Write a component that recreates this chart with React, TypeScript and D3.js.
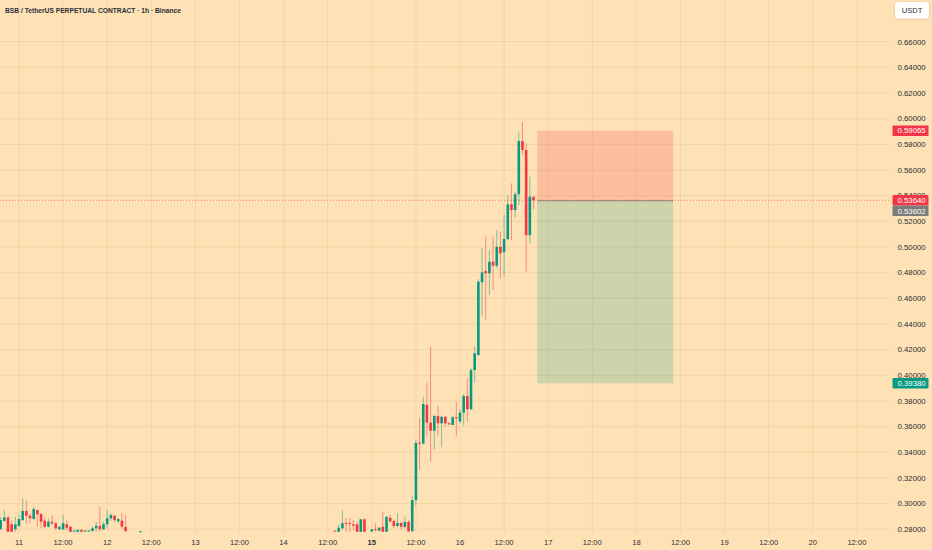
import React from "react";
import * as d3 from "d3";

// ---- data ----
const title = "BSB / TetherUS PERPETUAL CONTRACT · 1h · Binance";
const currency = "USDT";

// hour index from 11th 00:00
const hours = [
  -5, -4, -3, -2, -1, 0, 1, 2, 3, 4, 5, 6, 7, 8, 9, 10, 11, 12, 13, 14, 15, 16, 17, 18, 19, 20, 21, 22, 23, 24, 25, 26, 27, 28, 29,
  33,
  86, 87, 88, 89, 90, 91, 92, 93, 94, 96, 97, 98, 99, 100, 101, 102, 103, 104, 105, 106,
  107, 108, 109, 110, 111, 112, 113, 114, 115, 116, 117, 118, 119, 120, 121, 122, 123, 124, 125, 126, 127, 128, 129, 130, 131, 132, 133, 134, 135, 136, 137, 138, 139, 140,
];
const opens = [
  0.2802, 0.2865, 0.2893, 0.2839, 0.28, 0.2826, 0.2872, 0.2943, 0.2906, 0.288, 0.295, 0.2919, 0.2867, 0.282, 0.2859, 0.2847, 0.28, 0.28, 0.2839, 0.282, 0.2785, 0.2781, 0.2795, 0.2788, 0.2785, 0.2787, 0.2808, 0.2826, 0.28, 0.2839, 0.2886, 0.2906, 0.2862, 0.2867, 0.2818,
  0.2783,
  0.279, 0.2781, 0.2808, 0.285, 0.2849, 0.2839, 0.2839, 0.2781, 0.2878, 0.2783, 0.2802, 0.279, 0.282, 0.2781, 0.289, 0.2865, 0.2826, 0.2849, 0.2818, 0.2857,
  0.2785, 0.3028, 0.3476, 0.3468, 0.3769, 0.3631, 0.3568, 0.3683, 0.3626, 0.3677, 0.3626, 0.3613, 0.3673, 0.364, 0.3709, 0.3839, 0.3735, 0.4041, 0.4158, 0.4725, 0.4813, 0.4795, 0.4885, 0.4854, 0.5002, 0.4959, 0.5062, 0.5333, 0.5288, 0.5411, 0.5826, 0.5756, 0.5093, 0.5392,
];
const highs = [
  0.2896, 0.295, 0.29, 0.2872, 0.2898, 0.2911, 0.3041, 0.3028, 0.2925, 0.2976, 0.2955, 0.2925, 0.2898, 0.2886, 0.2911, 0.2855, 0.2826, 0.2911, 0.287, 0.2826, 0.2792, 0.2798, 0.2798, 0.2792, 0.2792, 0.282, 0.2859, 0.2976, 0.2859, 0.295, 0.2925, 0.2911, 0.289, 0.2925, 0.2911,
  0.2786,
  0.2792, 0.284, 0.295, 0.289, 0.2886, 0.2872, 0.2859, 0.288, 0.2886, 0.2803, 0.2847, 0.2818, 0.2937, 0.29, 0.2911, 0.2875, 0.2927, 0.2862, 0.2898, 0.2872,
  0.3059, 0.3497, 0.3667, 0.3833, 0.3942, 0.4223, 0.3691, 0.3761, 0.3683, 0.3683, 0.3635, 0.3683, 0.3794, 0.3735, 0.3855, 0.3977, 0.4055, 0.4223, 0.475, 0.499, 0.508, 0.4977, 0.508, 0.5132, 0.5119, 0.5249, 0.5405, 0.5496, 0.5431, 0.5898, 0.5976, 0.5808, 0.5548, 0.5392,
];
const lows = [
  0.2795, 0.2859, 0.2781, 0.2778, 0.2781, 0.2818, 0.2865, 0.2847, 0.2847, 0.2878, 0.282, 0.2808, 0.2808, 0.2812, 0.2833, 0.2795, 0.2798, 0.2795, 0.2795, 0.2781, 0.2783, 0.2778, 0.2778, 0.2786, 0.2783, 0.2781, 0.2781, 0.2781, 0.2795, 0.2812, 0.2865, 0.285, 0.2845, 0.28, 0.2781,
  0.2782,
  0.2784, 0.2781, 0.2795, 0.2781, 0.2781, 0.2795, 0.2781, 0.2781, 0.2781, 0.2781, 0.2781, 0.2783, 0.2781, 0.2781, 0.285, 0.281, 0.2818, 0.28, 0.2808, 0.2781,
  0.2781, 0.2989, 0.3262, 0.346, 0.3522, 0.3327, 0.3423, 0.3522, 0.3439, 0.36, 0.3613, 0.3613, 0.3522, 0.3626, 0.361, 0.3638, 0.373, 0.3942, 0.415, 0.4457, 0.4431, 0.4626, 0.4665, 0.4834, 0.4756, 0.4769, 0.5054, 0.5054, 0.5228, 0.5327, 0.5717, 0.4807, 0.5029, 0.5296,
];
const closes = [
  0.2872, 0.2893, 0.2781, 0.2781, 0.2839, 0.288, 0.2943, 0.2906, 0.2886, 0.2958, 0.2917, 0.2859, 0.282, 0.2859, 0.2847, 0.2808, 0.282, 0.2847, 0.2812, 0.2781, 0.279, 0.2795, 0.2781, 0.279, 0.279, 0.2808, 0.2828, 0.28, 0.2839, 0.2886, 0.2911, 0.2872, 0.288, 0.282, 0.2785,
  0.2785,
  0.2786, 0.2812, 0.2847, 0.2845, 0.2845, 0.2828, 0.2781, 0.2878, 0.2781, 0.28, 0.2797, 0.2812, 0.2781, 0.2898, 0.2862, 0.2826, 0.2849, 0.282, 0.2857, 0.2783,
  0.3028, 0.3473, 0.3468, 0.3776, 0.3631, 0.3568, 0.3683, 0.3626, 0.3677, 0.3626, 0.3618, 0.3673, 0.3665, 0.3709, 0.3839, 0.3735, 0.4041, 0.4172, 0.473, 0.4803, 0.4795, 0.4885, 0.4854, 0.5002, 0.4951, 0.5062, 0.5333, 0.5288, 0.5411, 0.5826, 0.5756, 0.5093, 0.5392, 0.5364,
];

const dayLabels = ["11", "12", "13", "14", "15", "16", "17", "18", "19", "20"];
const boldDayLabel = "15";
const priceTicks = [0.28, 0.3, 0.32, 0.34, 0.36, 0.38, 0.4, 0.42, 0.44, 0.46, 0.48, 0.5, 0.52, 0.54, 0.56, 0.58, 0.6, 0.62, 0.64, 0.66];

const lastPrice = 0.5364;
const entryPrice = 0.53602;
const stopPrice = 0.59065;
const targetPrice = 0.3938;
const positionStartHour = 141;
const positionEndHour = 178;

// ---- styles ----
const W = 932;
const H = 550;
const BG = "#FEE2B5";
const UP = "#089981";
const DOWN = "#F23645";
const GRID = "rgba(185,140,80,0.16)";
const TEXT = "#2a2e39";
const FONT = "'Liberation Sans', Arial, sans-serif";
const PLOT_RIGHT = 890;

export default function App() {
  const x = d3.scaleLinear().domain([0, 216]).range([19, 19 + 216 * 3.675]);
  const y = d3.scaleLinear().domain([0.28, 0.66]).range([529.3, 41.7]);

  const candles = hours.map((h, i) => ({
    h,
    o: opens[i],
    hi: highs[i],
    lo: lows[i],
    c: closes[i],
  }));

  const timeTicks: { h: number; label: string; bold: boolean }[] = [];
  dayLabels.forEach((d, i) => {
    timeTicks.push({ h: i * 24, label: d, bold: d === boldDayLabel });
    timeTicks.push({ h: i * 24 + 12, label: "12:00", bold: false });
  });

  const bodyW = 2.6;
  const fmt = d3.format(".5f");

  const px0 = x(positionStartHour);
  const px1 = x(positionEndHour);

  const labelBox = (price: number, cy: number, fill: string, key: string) => (
    <g key={key}>
      <rect x={892.5} y={cy - 5.3} width={36} height={10.6} rx={1} fill={fill} />
      <text x={897.5} y={cy + 2.8} fontSize={7.8} fill="#ffffff" fontFamily={FONT}>
        {fmt(price)}
      </text>
    </g>
  );

  return (
    <div style={{ position: "fixed", left: 0, top: 0, width: W, height: H }}>
      <svg width={W} height={H} style={{ display: "block" }}>
        <defs>
          <filter id="sh" x="-20%" y="-20%" width="140%" height="160%">
            <feDropShadow dx="0" dy="0.5" stdDeviation="0.8" floodColor="#000" floodOpacity="0.2" />
          </filter>
        </defs>
        <rect x={0} y={0} width={W} height={H} fill={BG} />

        {/* grid */}
        {priceTicks.map((p) => (
          <line key={"hg" + p} x1={0} x2={PLOT_RIGHT} y1={y(p)} y2={y(p)} stroke={GRID} strokeWidth={1} />
        ))}
        {timeTicks.map((t) => (
          <line key={"vg" + t.h} x1={x(t.h)} x2={x(t.h)} y1={0} y2={533} stroke={GRID} strokeWidth={1} />
        ))}

        {/* position box */}
        <rect x={px0} y={y(stopPrice)} width={px1 - px0} height={y(entryPrice) - y(stopPrice)} fill={DOWN} fillOpacity={0.2} />
        <rect x={px0} y={y(entryPrice)} width={px1 - px0} height={y(targetPrice) - y(entryPrice)} fill={UP} fillOpacity={0.2} />
        <line x1={px0} x2={px1} y1={y(entryPrice)} y2={y(entryPrice)} stroke="#8a8a80" strokeWidth={1} />

        {/* last price line */}
        <line x1={0} x2={PLOT_RIGHT} y1={y(lastPrice)} y2={y(lastPrice)} stroke={DOWN} strokeWidth={0.8} strokeDasharray="1 2" strokeOpacity={0.8} />

        {/* candles */}
        {candles.map((d) => {
          const col = d.c >= d.o ? UP : DOWN;
          const cx = x(d.h);
          const top = y(Math.max(d.o, d.c));
          const bot = y(Math.min(d.o, d.c));
          return (
            <g key={"c" + d.h}>
              <line x1={cx} x2={cx} y1={y(d.hi)} y2={y(d.lo)} stroke={col} strokeOpacity={0.5} strokeWidth={1} />
              <rect x={cx - bodyW / 2} y={top} width={bodyW} height={Math.max(bot - top, 1)} fill={col} />
            </g>
          );
        })}

        {/* title */}
        <text x={5} y={13} fontSize={7.6} fontWeight="bold" fill={TEXT} fontFamily={FONT} textLength={176} lengthAdjust="spacingAndGlyphs">
          {title}
        </text>

        {/* price axis labels */}
        {priceTicks.map((p) => (
          <text key={"pt" + p} x={897.5} y={y(p) + 2.8} fontSize={7.8} fill={TEXT} fontFamily={FONT}>
            {fmt(p)}
          </text>
        ))}

        {/* time axis labels */}
        {timeTicks.map((t) => (
          <text
            key={"tt" + t.h}
            x={x(t.h)}
            y={544.5}
            fontSize={7.6}
            textAnchor="middle"
            fontWeight={t.bold ? "bold" : "normal"}
            fill={TEXT}
            fontFamily={FONT}
          >
            {t.label}
          </text>
        ))}

        {/* price labels */}
        {labelBox(stopPrice, y(stopPrice), DOWN, "stop")}
        {labelBox(lastPrice, y(lastPrice), DOWN, "last")}
        {labelBox(entryPrice, y(lastPrice) + 10.5, "#7c7c78", "entry")}
        {labelBox(targetPrice, y(targetPrice), UP, "target")}

        {/* currency box */}
        <rect x={895} y={2} width={34} height={16.5} rx={3} fill="#ffffff" filter="url(#sh)" />
        <text x={912} y={12.8} fontSize={7.6} textAnchor="middle" fill={TEXT} fontFamily={FONT}>
          {currency}
        </text>
      </svg>
    </div>
  );
}
